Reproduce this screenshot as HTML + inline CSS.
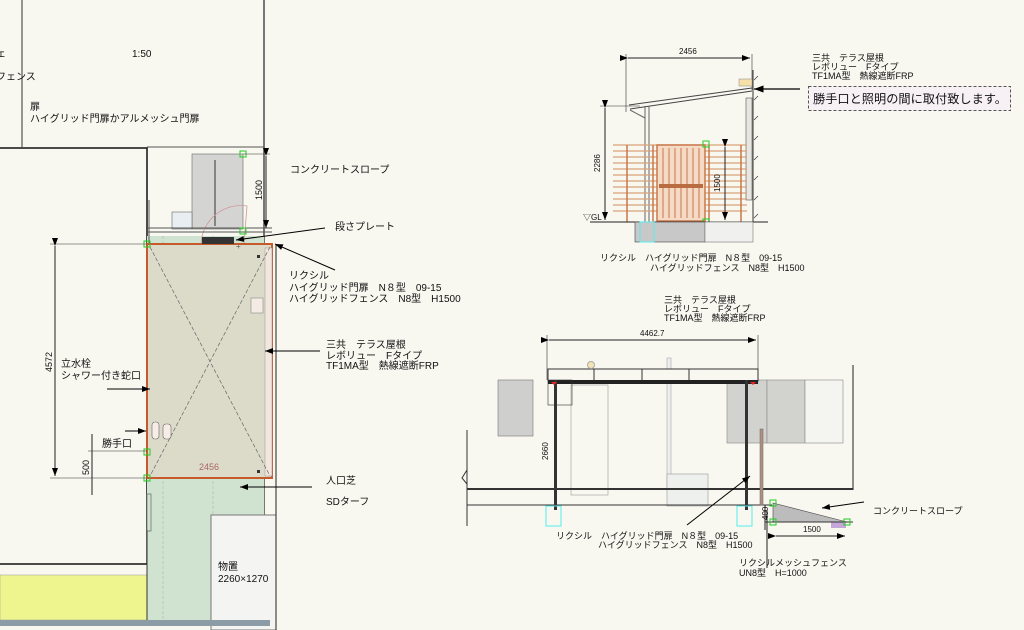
<!DOCTYPE html>
<html><head><meta charset="utf-8"><style>
html,body{margin:0;padding:0;background:#f8f7f0;}
svg{display:block;}
text{font-family:"Liberation Sans","Noto Sans CJK JP",sans-serif;fill:#111;}
.s{font-size:10px;}
.m{font-size:9px;}
</style></head><body>
<svg width="1024" height="630" viewBox="0 0 1024 630" xmlns="http://www.w3.org/2000/svg">
<defs>
<marker id="a" markerWidth="8" markerHeight="6" refX="8" refY="3" orient="auto"><path d="M0,0L8,3L0,6z" fill="#000"/></marker>
</defs>
<rect width="1024" height="630" fill="#f8f7f0"/>
<line x1="22" y1="0" x2="22" y2="147" stroke="#333"/>
<line x1="264" y1="0" x2="264" y2="630" stroke="#222" stroke-width="1.2"/>
<line x1="147" y1="147" x2="264" y2="147" stroke="#555"/>
<text x="132" y="57" class="s">1:50</text>
<text x="-4" y="80" class="s">フェンス</text>
<text x="30" y="110" class="s">扉</text>
<text x="30" y="122" class="s">ハイグリッド門扉かアルメッシュ門扉</text>
<text x="-4" y="57" class="s">ェ</text>
<rect x="-2" y="148" width="149" height="416" fill="#f8f7f0" stroke="#111" stroke-width="1.5"/>
<rect x="0" y="575" width="147" height="45" fill="#eef58f" stroke="#999" stroke-width="0.5"/>
<rect x="147" y="236" width="117" height="384" fill="#cfe3d0"/>
<line x1="163" y1="236" x2="163" y2="620" stroke="#b8c8b8" stroke-dasharray="3,2"/>
<line x1="213" y1="236" x2="213" y2="620" stroke="#b8c8b8" stroke-dasharray="3,2"/>
<rect x="192" y="154" width="51" height="75" fill="#d4d4d2" stroke="#666" stroke-width="0.6"/>
<line x1="215" y1="160" x2="215" y2="226" stroke="#333"/>
<rect x="172" y="212" width="20" height="17" fill="#e8eef2" stroke="#666" stroke-width="0.6"/>
<path d="M201,244 A40,40 0 0 1 247,206 L244,244" fill="none" stroke="#c99" stroke-width="0.8"/>
<line x1="147" y1="228" x2="272" y2="228" stroke="#555"/>
<line x1="147" y1="232" x2="272" y2="232" stroke="#555"/>
<line x1="149" y1="200" x2="149" y2="246" stroke="#555"/>
<rect x="147" y="244" width="125" height="234" fill="#dcdac9" stroke="#c65a2a" stroke-width="2"/>
<rect x="265" y="248" width="7" height="228" fill="#f2e6dd" stroke="#999" stroke-width="0.5"/>
<line x1="150" y1="247" x2="270" y2="476" stroke="#666" stroke-dasharray="4,2" stroke-width="0.7"/>
<line x1="270" y1="247" x2="150" y2="476" stroke="#666" stroke-dasharray="4,2" stroke-width="0.7"/>
<rect x="202" y="237" width="32" height="7" fill="#333"/>
<rect x="251" y="298" width="12" height="15" fill="#f4ece4" stroke="#777" stroke-width="0.5"/>
<rect x="152" y="422" width="7" height="17" rx="3" fill="#f7ede6" stroke="#666" stroke-width="0.6"/>
<rect x="163" y="424" width="8" height="15" rx="3" fill="#f7ede6" stroke="#666" stroke-width="0.6"/>
<rect x="257" y="255" width="3" height="3" fill="#333"/>
<rect x="257" y="470" width="3" height="3" fill="#333"/>
<text x="199" y="470" class="m" style="fill:#a66">2456</text>
<text x="236" y="249" class="m" style="font-size:8px;fill:#666">+</text>
<rect x="144" y="241" width="6" height="6" fill="none" stroke="#2c2"/>
<rect x="144" y="475" width="6" height="6" fill="none" stroke="#2c2"/>
<rect x="144" y="449" width="6" height="6" fill="none" stroke="#2c2"/>
<rect x="240" y="151" width="6" height="6" fill="none" stroke="#2c2"/>
<rect x="240" y="228" width="6" height="6" fill="none" stroke="#2c2"/>
<line x1="147" y1="530" x2="147" y2="620" stroke="#333"/>
<rect x="147" y="494" width="4" height="37" fill="none" stroke="#555" stroke-width="0.6"/>
<rect x="211" y="515" width="65" height="115" fill="#f4f4f2" stroke="#777"/>
<text x="218" y="570" class="s">物置</text>
<text x="218" y="582" class="s">2260×1270</text>
<rect x="0" y="620" width="270" height="6" fill="#8c9ca6"/>
<line x1="276" y1="244" x2="276" y2="630" stroke="#222"/>
<line x1="50" y1="244" x2="147" y2="244" stroke="#333" stroke-width="0.6"/>
<line x1="50" y1="478" x2="147" y2="478" stroke="#333" stroke-width="0.6"/>
<line x1="55" y1="246" x2="55" y2="476" stroke="#222" marker-start="url(#a)" marker-end="url(#a)"/>
<text transform="translate(52,372) rotate(-90)" class="m">4572</text>
<line x1="92" y1="434" x2="92" y2="495" stroke="#222"/>
<line x1="88" y1="451" x2="147" y2="451" stroke="#333" stroke-width="0.6"/>
<text transform="translate(89,475) rotate(-90)" class="m">500</text>
<text x="102" y="447" class="s">勝手口</text>
<line x1="125" y1="431" x2="146" y2="431" stroke="#000" marker-end="url(#a)"/>
<text x="61" y="367" class="s">立水栓</text>
<text x="61" y="379" class="s">シャワー付き蛇口</text>
<line x1="107" y1="389" x2="150" y2="389" stroke="#000" marker-end="url(#a)"/>
<line x1="266" y1="156" x2="266" y2="228" stroke="#222" marker-start="url(#a)" marker-end="url(#a)"/>
<line x1="243" y1="154" x2="270" y2="154" stroke="#333" stroke-width="0.6"/>
<text transform="translate(262,200) rotate(-90)" class="m">1500</text>
<text x="290" y="173" class="s">コンクリートスロープ</text>
<text x="335" y="230" class="s">段さプレート</text>
<line x1="325" y1="228" x2="236" y2="240" stroke="#000" marker-end="url(#a)"/>
<line x1="335" y1="270" x2="275" y2="244" stroke="#000" marker-end="url(#a)"/>
<text x="289" y="279" class="s">リクシル</text>
<text x="289" y="291" class="s">ハイグリッド門扉　N８型　09-15</text>
<text x="289" y="302" class="s">ハイグリッドフェンス　N8型　H1500</text>
<line x1="320" y1="351" x2="265" y2="351" stroke="#000" marker-end="url(#a)"/>
<text x="326" y="348" class="s">三共　テラス屋根</text>
<text x="326" y="359" class="s">レボリュー　Fタイプ</text>
<text x="326" y="369" class="s">TF1MA型　熱線遮断FRP</text>
<text x="326" y="484" class="s">人口芝</text>
<text x="326" y="505" class="s">SDターフ</text>
<line x1="312" y1="487" x2="240" y2="487" stroke="#000" marker-end="url(#a)"/>
<line x1="626" y1="54" x2="626" y2="112" stroke="#333" stroke-width="0.6"/>
<line x1="752" y1="54" x2="752" y2="90" stroke="#333" stroke-width="0.6"/>
<line x1="628" y1="58" x2="750" y2="58" stroke="#222" marker-start="url(#a)" marker-end="url(#a)"/>
<text x="679" y="54" class="m" style="font-size:8px">2456</text>
<line x1="629" y1="105" x2="752" y2="88" stroke="#444"/>
<line x1="630" y1="109" x2="752" y2="91" stroke="#444"/>
<rect x="739" y="79" width="13" height="7" fill="#f6dfa8" stroke="#888" stroke-width="0.5"/>
<rect x="746" y="98" width="6" height="102" fill="#e8e6e0" stroke="#555" stroke-width="0.6"/>
<line x1="753" y1="70" x2="753" y2="222" stroke="#333"/>
<g stroke="#333" stroke-width="0.6">
<line x1="754" y1="80" x2="758" y2="76"/><line x1="754" y1="100" x2="758" y2="96"/><line x1="754" y1="120" x2="758" y2="116"/><line x1="754" y1="140" x2="758" y2="136"/><line x1="754" y1="160" x2="758" y2="156"/><line x1="754" y1="180" x2="758" y2="176"/><line x1="754" y1="200" x2="758" y2="196"/><line x1="754" y1="218" x2="758" y2="214"/>
</g>
<line x1="645" y1="106" x2="645" y2="222" stroke="#666"/>
<line x1="649" y1="106" x2="649" y2="222" stroke="#666"/>
<path d="M630,110 L645,118" stroke="#666" fill="none"/>
<g stroke="#d9a27a" stroke-width="1.2">
<line x1="613" y1="145" x2="747" y2="145"/><line x1="613" y1="151" x2="747" y2="151"/><line x1="613" y1="157" x2="747" y2="157"/><line x1="613" y1="163" x2="747" y2="163"/><line x1="613" y1="169" x2="747" y2="169"/><line x1="613" y1="175" x2="747" y2="175"/><line x1="613" y1="181" x2="747" y2="181"/><line x1="613" y1="187" x2="747" y2="187"/><line x1="613" y1="193" x2="747" y2="193"/><line x1="613" y1="199" x2="747" y2="199"/><line x1="613" y1="205" x2="747" y2="205"/><line x1="613" y1="211" x2="747" y2="211"/>
</g>
<g stroke="#c8784a" stroke-width="1.5"><line x1="627" y1="145" x2="627" y2="222"/><line x1="653" y1="145" x2="653" y2="222"/><line x1="709" y1="145" x2="709" y2="222"/><line x1="741" y1="145" x2="741" y2="222"/></g>
<rect x="657" y="145" width="48" height="76" fill="#f5dac6" stroke="#c8784a" stroke-width="1.5"/>
<g stroke="#c8784a"><line x1="663" y1="148" x2="663" y2="218"/><line x1="669" y1="148" x2="669" y2="218"/><line x1="675" y1="148" x2="675" y2="218"/><line x1="681" y1="148" x2="681" y2="218"/><line x1="687" y1="148" x2="687" y2="218"/><line x1="693" y1="148" x2="693" y2="218"/><line x1="699" y1="148" x2="699" y2="218"/></g>
<rect x="659" y="184" width="44" height="4" fill="#b86c40"/>
<line x1="725" y1="147" x2="725" y2="220" stroke="#222" marker-start="url(#a)" marker-end="url(#a)"/>
<text transform="translate(720,192) rotate(-90)" class="m" style="font-size:8px">1500</text>
<rect x="703" y="141" width="6" height="6" fill="none" stroke="#2c2"/>
<rect x="703" y="219" width="6" height="6" fill="none" stroke="#2c2"/>
<line x1="600" y1="106" x2="640" y2="106" stroke="#333" stroke-width="0.6"/>
<line x1="605" y1="108" x2="605" y2="220" stroke="#222" marker-start="url(#a)" marker-end="url(#a)"/>
<text transform="translate(600,172) rotate(-90)" class="m" style="font-size:8px">2286</text>
<text x="583" y="220" class="m" style="font-size:8px">▽GL</text>
<line x1="590" y1="222" x2="768" y2="222" stroke="#222"/>
<rect x="635" y="222" width="70" height="20" fill="#c8c8c8" stroke="#444" stroke-width="0.6"/>
<rect x="705" y="222" width="48" height="20" fill="#f0f0ee" stroke="#777" stroke-width="0.6"/>
<rect x="640" y="222" width="14" height="20" fill="none" stroke="#5ee"/>
<text x="600" y="261" class="m">リクシル　ハイグリッド門扉　N８型　09-15</text>
<text x="650" y="271" class="m">ハイグリッドフェンス　N8型　H1500</text>
<text x="812" y="61" class="m">三共　テラス屋根</text>
<text x="812" y="70" class="m">レボリュー　Fタイプ</text>
<text x="812" y="79" class="m">TF1MA型　熱線遮断FRP</text>
<rect x="808.5" y="86.5" width="202" height="24" fill="#f7f0f4" stroke="#555" stroke-dasharray="3,2"/>
<text x="813" y="103" style="font-size:12px" textLength="194" lengthAdjust="spacingAndGlyphs">勝手口と照明の間に取付致します。</text>
<line x1="800" y1="89" x2="754" y2="89" stroke="#000" stroke-width="1.2" marker-end="url(#a)"/>
<text x="664" y="303" class="m">三共　テラス屋根</text>
<text x="664" y="312" class="m">レボリュー　Fタイプ</text>
<text x="664" y="321" class="m">TF1MA型　熱線遮断FRP</text>
<line x1="547" y1="335" x2="547" y2="380" stroke="#333" stroke-width="0.6"/>
<line x1="758" y1="335" x2="758" y2="380" stroke="#333" stroke-width="0.6"/>
<line x1="549" y1="340" x2="756" y2="340" stroke="#222" marker-start="url(#a)" marker-end="url(#a)"/>
<text x="640" y="336" class="m" style="font-size:8px">4462.7</text>
<rect x="498" y="380" width="35" height="56" fill="#cfcfcd" stroke="#777" stroke-width="0.6"/>
<rect x="571" y="385" width="37" height="110" fill="none" stroke="#999" stroke-width="0.6"/>
<rect x="667" y="358" width="4" height="132" fill="#eee" stroke="#999" stroke-width="0.5"/>
<rect x="667" y="474" width="41" height="32" fill="#eef0ee" stroke="#999" stroke-width="0.6"/>
<rect x="727" y="380" width="40" height="63" fill="#d2d2cf" stroke="#888" stroke-width="0.6"/>
<rect x="767" y="380" width="38" height="63" fill="#d2d2cf" stroke="#888" stroke-width="0.6"/>
<rect x="805" y="380" width="38" height="63" fill="#f4f4f0" stroke="#888" stroke-width="0.6"/>
<rect x="548" y="369" width="210" height="12" fill="#f8f7f0" stroke="#333"/>
<line x1="594" y1="369" x2="594" y2="381" stroke="#333"/><line x1="642" y1="369" x2="642" y2="381" stroke="#333"/><line x1="689" y1="369" x2="689" y2="381" stroke="#333"/>
<rect x="548" y="380" width="210" height="4" fill="#222"/>
<rect x="548" y="380" width="24" height="25" fill="none" stroke="#333" stroke-width="0.6"/>
<circle cx="591" cy="365" r="3.5" fill="#f4e4b4" stroke="#aaa"/>
<rect x="554" y="380" width="3" height="130" fill="#333"/>
<rect x="745" y="380" width="3" height="130" fill="#333"/>
<path d="M551,382 l3,3 l3,-3z M750,382 l3,3 l3,-3z" fill="#e22"/>
<text transform="translate(548,460) rotate(-90)" class="m" style="font-size:8px">2660</text>
<line x1="853" y1="365" x2="853" y2="490" stroke="#222"/>
<line x1="467" y1="430" x2="467" y2="526" stroke="#333"/>
<path d="M467,470 l-5,8 l5,6" fill="none" stroke="#333"/>
<line x1="467" y1="489" x2="853" y2="489" stroke="#333" stroke-width="2"/>
<line x1="467" y1="505" x2="772" y2="505" stroke="#333"/>
<rect x="760" y="429" width="3" height="76" fill="#b09080" stroke="#666" stroke-width="0.5"/>
<rect x="546" y="506" width="15" height="20" fill="none" stroke="#5ee"/>
<rect x="737" y="506" width="15" height="20" fill="none" stroke="#5ee"/>
<path d="M773,503 L773,522 L847,522 Z" fill="#bcbcbc" stroke="#444" stroke-width="0.6"/>
<rect x="831" y="522" width="15" height="6" fill="#c6a8d8"/>
<line x1="765" y1="522" x2="853" y2="522" stroke="#333"/>
<rect x="770" y="500" width="6" height="6" fill="none" stroke="#2c2"/>
<rect x="770" y="519" width="6" height="6" fill="none" stroke="#2c2"/>
<rect x="844" y="519" width="6" height="6" fill="none" stroke="#2c2"/>
<line x1="765" y1="505" x2="765" y2="530" stroke="#222"/>
<line x1="767" y1="568" x2="767" y2="510" stroke="#222"/>
<text transform="translate(768,520) rotate(-90)" class="m" style="font-size:8px">400</text>
<line x1="776" y1="536" x2="845" y2="536" stroke="#222" marker-start="url(#a)" marker-end="url(#a)"/>
<text x="803" y="532" class="m" style="font-size:8px">1500</text>
<text x="873" y="514" class="m">コンクリートスロープ</text>
<line x1="864" y1="502" x2="822" y2="508" stroke="#000" marker-end="url(#a)"/>
<line x1="687" y1="525" x2="750" y2="476" stroke="#000" marker-end="url(#a)"/>
<text x="556" y="539" class="m">リクシル　ハイグリッド門扉　N８型　09-15</text>
<text x="598" y="548" class="m">ハイグリッドフェンス　N8型　H1500</text>
<text x="739" y="566" class="m">リクシルメッシュフェンス</text>
<text x="739" y="576" class="m">UN8型　H=1000</text>
</svg>
</body></html>
